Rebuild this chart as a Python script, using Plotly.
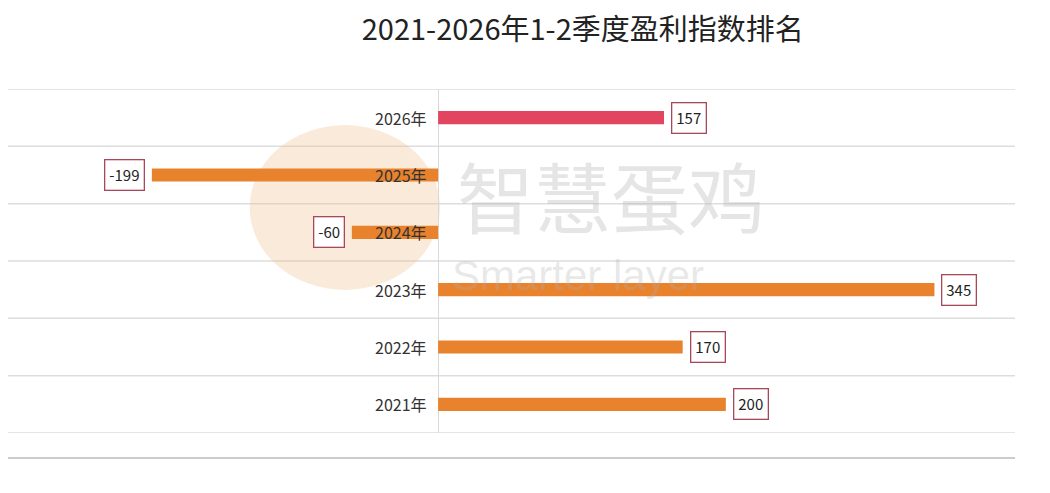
import plotly.graph_objects as go

years = ["2021年", "2022年", "2023年", "2024年", "2025年", "2026年"]
values = [200, 170, 345, -60, -199, 157]
colors = ["#E9822D", "#E9822D", "#E9822D", "#E9822D", "#E9822D", "#E2455F"]

FONT = "Noto Sans CJK SC, Noto Sans, sans-serif"

fig = go.Figure()
fig.add_trace(go.Bar(
    y=years, x=values, orientation="h",
    marker=dict(color=colors, line=dict(width=0)),
    width=0.23, hoverinfo="x+y",
))

annotations = []
for yr, v in zip(years, values):
    annotations.append(dict(
        x=0, y=yr, xref="x", yref="y", text=yr, showarrow=False,
        xanchor="right", xshift=-9,
        font=dict(family=FONT, size=16, color="#333333"),
    ))
    annotations.append(dict(
        x=v, y=yr, xref="x", yref="y", text=str(v), showarrow=False,
        xanchor="left" if v >= 0 else "right",
        xshift=7 if v >= 0 else -7,
        font=dict(family=FONT, size=15, color="#222222"),
        bordercolor="#A8485A", borderwidth=1.3, borderpad=4, bgcolor="white",
    ))

# watermark
annotations.append(dict(
    x=0.599, y=0.692, xref="paper", yref="paper", text="智慧蛋鸡", showarrow=False,
    xanchor="center", yanchor="middle", borderpad=0,
    font=dict(family=FONT, size=77, color="rgba(175,175,175,0.33)"),
))
annotations.append(dict(
    x=0.566, y=0.459, xref="paper", yref="paper", text="Smarter layer", showarrow=False,
    xanchor="center", yanchor="middle", borderpad=0,
    font=dict(family="Liberation Sans, Arial, sans-serif", size=42, color="rgba(175,175,175,0.28)"),
))

fig.update_layout(
    width=1050, height=493,
    margin=dict(l=8, r=35, t=89, b=60),
    paper_bgcolor="white", plot_bgcolor="white",
    title=dict(text="2021-2026年1-2季度盈利指数排名", x=0.555, xanchor="center",
               y=0.94, yanchor="middle",
               font=dict(family=FONT, size=29, color="#222222")),
    showlegend=False,
    xaxis=dict(range=[-299, 401], showgrid=False, showticklabels=False, ticks="",
               zeroline=True, zerolinecolor="#d9d9d9", zerolinewidth=1.2, fixedrange=True),
    yaxis=dict(categoryorder="array", categoryarray=years, range=[-0.5, 5.5],
               showticklabels=False, ticks="", showgrid=False, zeroline=False, fixedrange=True),
    annotations=annotations,
)

# horizontal separator lines between categories
shapes = []
for i in range(len(years) + 1):
    shapes.append(dict(type="line", xref="paper", yref="y", x0=0, x1=1,
                       y0=i - 0.5, y1=i - 0.5,
                       line=dict(color="#dddddd", width=1.5), layer="below"))
shapes.append(dict(type="line", xref="paper", yref="paper", x0=0, x1=1,
                   y0=-0.073, y1=-0.073, line=dict(color="#cccccc", width=2)))
# faint egg logo of the watermark
shapes.append(dict(type="circle", xref="paper", yref="paper",
                   x0=0.24, x1=0.429, y0=0.416, y1=0.895,
                   fillcolor="rgba(240,190,140,0.33)", line=dict(width=0), layer="below"))
fig.update_layout(shapes=shapes)

fig.write_html("out.html")
